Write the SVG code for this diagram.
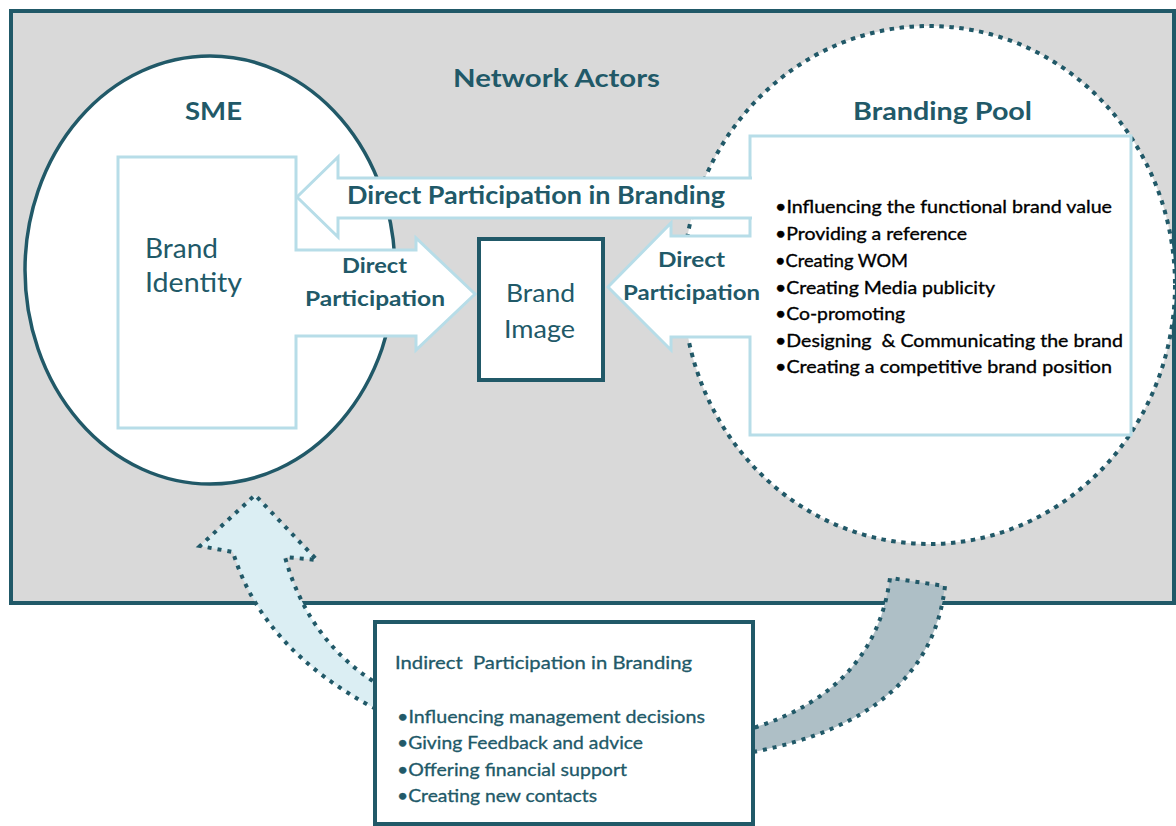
<svg xmlns="http://www.w3.org/2000/svg" width="1176" height="826" viewBox="0 0 1176 826">
<defs>
<style>
.teal{fill:#215968;font-family:Lato,"Open Sans","Liberation Sans",sans-serif}
.b{font-weight:bold}
.blk{fill:#000;stroke:#000;stroke-width:0.35;font-family:Lato,"Open Sans","Liberation Sans",sans-serif;font-size:18px}
.ind{stroke:#215968;stroke-width:0.3}
.lb{fill:#fff;stroke:#b7dde8;stroke-width:3}
.dot{stroke:#215968;stroke-width:4;stroke-dasharray:4 6}
.pre{white-space:pre}
</style>
</defs>
<rect width="1176" height="826" fill="#fff"/>
<g id="network-actors">
<rect x="11" y="11" width="1163" height="592" fill="#d9d9d9" stroke="#215968" stroke-width="4"/>
<text class="teal b" x="453" y="87" font-size="25" textLength="207" lengthAdjust="spacingAndGlyphs">Network Actors</text>
</g>
<g id="sme">
<ellipse cx="210" cy="270" rx="185" ry="214" fill="#fff" stroke="#215968" stroke-width="3.5"/>
<text class="teal b" x="185" y="120" font-size="25" textLength="57" lengthAdjust="spacingAndGlyphs">SME</text>
</g>
<g id="branding-pool">
<ellipse cx="929" cy="285" rx="246" ry="259" fill="#fff" stroke="#215968" stroke-width="4" stroke-dasharray="4.5 5.5"/>
<text class="teal b" x="853" y="120" font-size="25" textLength="179" lengthAdjust="spacingAndGlyphs">Branding Pool</text>
</g>
<g id="brand-identity">
<path class="lb" d="M118,157 H296 V250 H416 V238 L475,294 L416,350 V336 H296 V428 H118 Z"/>
<text class="teal" x="145" y="258" font-size="26" textLength="73" lengthAdjust="spacingAndGlyphs">Brand</text>
<text class="teal" x="145" y="292" font-size="26" textLength="97" lengthAdjust="spacingAndGlyphs">Identity</text>
</g>
<g id="pool-activities">
<path class="lb" d="M750,136 H1131 V435 H750 V337 H671 V350 L608,287 L671,223 V236 H750 Z"/>
<text class="blk" x="775" y="213" textLength="337" lengthAdjust="spacingAndGlyphs">•Influencing the functional brand value</text>
<text class="blk" x="775" y="240" textLength="192" lengthAdjust="spacingAndGlyphs">•Providing a reference</text>
<text class="blk" x="775" y="267" textLength="133" lengthAdjust="spacingAndGlyphs">•Creating WOM</text>
<text class="blk" x="775" y="294" textLength="220" lengthAdjust="spacingAndGlyphs">•Creating Media publicity</text>
<text class="blk" x="775" y="320" textLength="130" lengthAdjust="spacingAndGlyphs">•Co-promoting</text>
<text class="blk pre" x="775" y="347" textLength="348" lengthAdjust="spacingAndGlyphs">•Designing  &amp; Communicating the brand</text>
<text class="blk" x="775" y="373" textLength="337" lengthAdjust="spacingAndGlyphs">•Creating a competitive brand position</text>
</g>
<g id="connectors">
<path d="M297,197 L338,157 V178 H752 V218 H338 V237 Z" fill="#fff"/>
<path d="M752,178 H338 V157 L297,197 L338,237 V218 H752" fill="none" stroke="#b7dde8" stroke-width="3"/>
<text class="teal b" x="347" y="204" font-size="24" textLength="378" lengthAdjust="spacingAndGlyphs">Direct Participation in Branding</text>
<text class="teal b" x="342" y="273" font-size="21" textLength="65" lengthAdjust="spacingAndGlyphs">Direct</text>
<text class="teal b" x="305" y="306" font-size="21" textLength="140" lengthAdjust="spacingAndGlyphs">Participation</text>
<text class="teal b" x="658" y="267" font-size="21" textLength="67" lengthAdjust="spacingAndGlyphs">Direct</text>
<text class="teal b" x="623" y="300" font-size="21" textLength="137" lengthAdjust="spacingAndGlyphs">Participation</text>
<path class="dot" fill="#dbeef3" d="M376,709 Q262,649 233,552 L200,546 L255,495 L317,560 L285,557 Q308,640 376,683 Z"/>
<path class="dot" fill="#aebfc6" d="M753,752 Q930,718 945,586 L890,578 Q875,690 753,728 Z"/>
</g>
<g id="brand-image">
<rect x="479" y="239" width="124" height="141" fill="#fff" stroke="#215968" stroke-width="4"/>
<text class="teal" x="506" y="302" font-size="25" textLength="69" lengthAdjust="spacingAndGlyphs">Brand</text>
<text class="teal" x="504" y="338" font-size="25" textLength="71" lengthAdjust="spacingAndGlyphs">Image</text>
</g>
<g id="indirect">
<rect x="375" y="622" width="378" height="202" fill="#fff" stroke="#215968" stroke-width="4"/>
<text class="teal ind pre" x="395" y="669" font-size="18" textLength="297" lengthAdjust="spacingAndGlyphs">Indirect  Participation in Branding</text>
<text class="teal ind" x="397" y="723" font-size="18" textLength="308" lengthAdjust="spacingAndGlyphs">•Influencing management decisions</text>
<text class="teal ind" x="397" y="749" font-size="18" textLength="246" lengthAdjust="spacingAndGlyphs">•Giving Feedback and advice</text>
<text class="teal ind" x="397" y="776" font-size="18" textLength="230" lengthAdjust="spacingAndGlyphs">•Offering financial support</text>
<text class="teal ind" x="397" y="802" font-size="18" textLength="200" lengthAdjust="spacingAndGlyphs">•Creating new contacts</text>
</g>
</svg>
